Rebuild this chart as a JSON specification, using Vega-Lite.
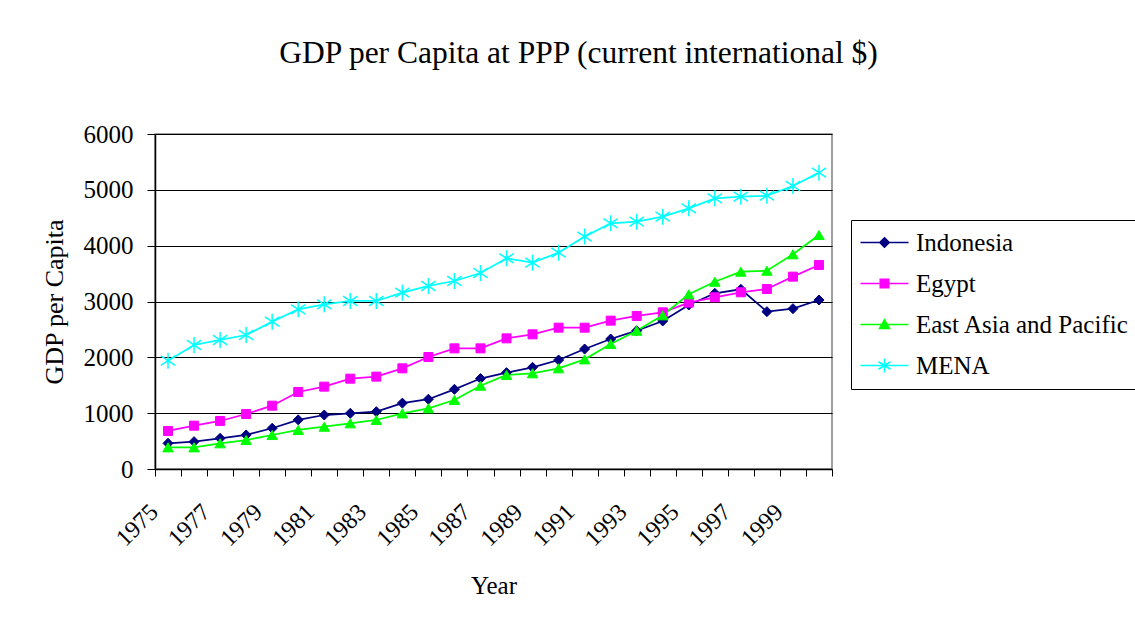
{
  "$schema": "https://vega.github.io/schema/vega-lite/v6.json",
  "width": 677,
  "height": 335,
  "autosize": "none",
  "padding": {"left": 155, "top": 134, "right": 303, "bottom": 155},
  "background": "white",
  "title": {
    "text": "GDP per Capita at PPP (current international $)",
    "font": "Liberation Serif", "fontSize": 31.5, "fontWeight": "normal", "color": "black",
    "anchor": "middle", "frame": "group", "dx": 85, "offset": 28, "baseline": "alphabetic"
  },
  "config": {
    "font": "Liberation Serif",
    "view": {"stroke": "#808080", "strokeWidth": 1.5},
    "axis": {
      "labelFont": "Liberation Serif", "titleFont": "Liberation Serif",
      "labelColor": "black", "titleColor": "black", "titleFontWeight": "normal",
      "domainColor": "black", "domainWidth": 1.5, "tickColor": "black", "tickWidth": 1
    }
  },
  "data": {"values": [
    {"year": 1975, "series": "Indonesia", "gdp": 460},
    {"year": 1976, "series": "Indonesia", "gdp": 490},
    {"year": 1977, "series": "Indonesia", "gdp": 550},
    {"year": 1978, "series": "Indonesia", "gdp": 610},
    {"year": 1979, "series": "Indonesia", "gdp": 730},
    {"year": 1980, "series": "Indonesia", "gdp": 880},
    {"year": 1981, "series": "Indonesia", "gdp": 967},
    {"year": 1982, "series": "Indonesia", "gdp": 997},
    {"year": 1983, "series": "Indonesia", "gdp": 1027},
    {"year": 1984, "series": "Indonesia", "gdp": 1180},
    {"year": 1985, "series": "Indonesia", "gdp": 1250},
    {"year": 1986, "series": "Indonesia", "gdp": 1427},
    {"year": 1987, "series": "Indonesia", "gdp": 1620},
    {"year": 1988, "series": "Indonesia", "gdp": 1726},
    {"year": 1989, "series": "Indonesia", "gdp": 1821},
    {"year": 1990, "series": "Indonesia", "gdp": 1952},
    {"year": 1991, "series": "Indonesia", "gdp": 2149},
    {"year": 1992, "series": "Indonesia", "gdp": 2328},
    {"year": 1993, "series": "Indonesia", "gdp": 2477},
    {"year": 1994, "series": "Indonesia", "gdp": 2651},
    {"year": 1995, "series": "Indonesia", "gdp": 2938},
    {"year": 1996, "series": "Indonesia", "gdp": 3147},
    {"year": 1997, "series": "Indonesia", "gdp": 3219},
    {"year": 1998, "series": "Indonesia", "gdp": 2818},
    {"year": 1999, "series": "Indonesia", "gdp": 2872},
    {"year": 2000, "series": "Indonesia", "gdp": 3027},
    {"year": 1975, "series": "Egypt", "gdp": 681},
    {"year": 1976, "series": "Egypt", "gdp": 776},
    {"year": 1977, "series": "Egypt", "gdp": 860},
    {"year": 1978, "series": "Egypt", "gdp": 985},
    {"year": 1979, "series": "Egypt", "gdp": 1134},
    {"year": 1980, "series": "Egypt", "gdp": 1379},
    {"year": 1981, "series": "Egypt", "gdp": 1475},
    {"year": 1982, "series": "Egypt", "gdp": 1618},
    {"year": 1983, "series": "Egypt", "gdp": 1654},
    {"year": 1984, "series": "Egypt", "gdp": 1803},
    {"year": 1985, "series": "Egypt", "gdp": 2006},
    {"year": 1986, "series": "Egypt", "gdp": 2161},
    {"year": 1987, "series": "Egypt", "gdp": 2161},
    {"year": 1988, "series": "Egypt", "gdp": 2340},
    {"year": 1989, "series": "Egypt", "gdp": 2412},
    {"year": 1990, "series": "Egypt", "gdp": 2531},
    {"year": 1991, "series": "Egypt", "gdp": 2531},
    {"year": 1992, "series": "Egypt", "gdp": 2657},
    {"year": 1993, "series": "Egypt", "gdp": 2741},
    {"year": 1994, "series": "Egypt", "gdp": 2806},
    {"year": 1995, "series": "Egypt", "gdp": 2980},
    {"year": 1996, "series": "Egypt", "gdp": 3075},
    {"year": 1997, "series": "Egypt", "gdp": 3165},
    {"year": 1998, "series": "Egypt", "gdp": 3224},
    {"year": 1999, "series": "Egypt", "gdp": 3445},
    {"year": 2000, "series": "Egypt", "gdp": 3654},
    {"year": 1975, "series": "East Asia and Pacific", "gdp": 388},
    {"year": 1976, "series": "East Asia and Pacific", "gdp": 388},
    {"year": 1977, "series": "East Asia and Pacific", "gdp": 460},
    {"year": 1978, "series": "East Asia and Pacific", "gdp": 519},
    {"year": 1979, "series": "East Asia and Pacific", "gdp": 609},
    {"year": 1980, "series": "East Asia and Pacific", "gdp": 699},
    {"year": 1981, "series": "East Asia and Pacific", "gdp": 758},
    {"year": 1982, "series": "East Asia and Pacific", "gdp": 818},
    {"year": 1983, "series": "East Asia and Pacific", "gdp": 878},
    {"year": 1984, "series": "East Asia and Pacific", "gdp": 997},
    {"year": 1985, "series": "East Asia and Pacific", "gdp": 1087},
    {"year": 1986, "series": "East Asia and Pacific", "gdp": 1236},
    {"year": 1987, "series": "East Asia and Pacific", "gdp": 1492},
    {"year": 1988, "series": "East Asia and Pacific", "gdp": 1684},
    {"year": 1989, "series": "East Asia and Pacific", "gdp": 1714},
    {"year": 1990, "series": "East Asia and Pacific", "gdp": 1803},
    {"year": 1991, "series": "East Asia and Pacific", "gdp": 1964},
    {"year": 1992, "series": "East Asia and Pacific", "gdp": 2239},
    {"year": 1993, "series": "East Asia and Pacific", "gdp": 2477},
    {"year": 1994, "series": "East Asia and Pacific", "gdp": 2753},
    {"year": 1995, "series": "East Asia and Pacific", "gdp": 3129},
    {"year": 1996, "series": "East Asia and Pacific", "gdp": 3355},
    {"year": 1997, "series": "East Asia and Pacific", "gdp": 3534},
    {"year": 1998, "series": "East Asia and Pacific", "gdp": 3552},
    {"year": 1999, "series": "East Asia and Pacific", "gdp": 3845},
    {"year": 2000, "series": "East Asia and Pacific", "gdp": 4191},
    {"year": 1975, "series": "MENA", "gdp": 1940},
    {"year": 1976, "series": "MENA", "gdp": 2221},
    {"year": 1977, "series": "MENA", "gdp": 2311},
    {"year": 1978, "series": "MENA", "gdp": 2400},
    {"year": 1979, "series": "MENA", "gdp": 2639},
    {"year": 1980, "series": "MENA", "gdp": 2860},
    {"year": 1981, "series": "MENA", "gdp": 2949},
    {"year": 1982, "series": "MENA", "gdp": 3009},
    {"year": 1983, "series": "MENA", "gdp": 3009},
    {"year": 1984, "series": "MENA", "gdp": 3158},
    {"year": 1985, "series": "MENA", "gdp": 3278},
    {"year": 1986, "series": "MENA", "gdp": 3367},
    {"year": 1987, "series": "MENA", "gdp": 3510},
    {"year": 1988, "series": "MENA", "gdp": 3773},
    {"year": 1989, "series": "MENA", "gdp": 3696},
    {"year": 1990, "series": "MENA", "gdp": 3875},
    {"year": 1991, "series": "MENA", "gdp": 4162},
    {"year": 1992, "series": "MENA", "gdp": 4400},
    {"year": 1993, "series": "MENA", "gdp": 4430},
    {"year": 1994, "series": "MENA", "gdp": 4519},
    {"year": 1995, "series": "MENA", "gdp": 4669},
    {"year": 1996, "series": "MENA", "gdp": 4848},
    {"year": 1997, "series": "MENA", "gdp": 4878},
    {"year": 1998, "series": "MENA", "gdp": 4896},
    {"year": 1999, "series": "MENA", "gdp": 5069},
    {"year": 2000, "series": "MENA", "gdp": 5308}
  ]},
  "encoding": {
    "x": {
      "field": "year", "type": "ordinal", "bandPosition": 0.5,
      "scale": {"type": "band", "paddingInner": 0, "paddingOuter": 0},
      "axis": {
        "title": "Year", "titleFontSize": 25, "titlePadding": 23,
        "labelFontSize": 24, "labelAngle": -45, "labelAlign": "right", "labelBaseline": "middle",
        "labelPadding": 32, "tickSize": 7, "tickBand": "extent", "labelOffset": -14,
        "labelOverlap": false, "labelExpr": "datum.value % 2 == 1 ? datum.label : ''",
        "grid": false
      }
    },
    "y": {
      "field": "gdp", "type": "quantitative",
      "scale": {"domain": [0, 6000], "nice": false},
      "axis": {
        "title": "GDP per Capita", "titleFontSize": 26, "titlePadding": 16,
        "values": [0, 1000, 2000, 3000, 4000, 5000, 6000], "format": "d",
        "labelFontSize": 25, "tickSize": 8, "labelPadding": 14,
        "grid": true, "gridColor": "black", "gridWidth": 1
      }
    },
    "color": {
      "field": "series", "type": "nominal",
      "scale": {
        "domain": ["Indonesia", "Egypt", "East Asia and Pacific", "MENA"],
        "range": ["#000080", "#FF00FF", "#00FF00", "#00FFFF"]
      },
      "legend": {
        "title": null, "orient": "none", "legendX": 696, "legendY": 86,
        "strokeColor": "black", "fillColor": "white", "padding": 10,
        "labelFont": "Liberation Serif", "labelFontSize": 25, "labelColor": "black", "labelLimit": 500,
        "symbolSize": 100, "symbolOffset": 11, "labelOffset": 19, "rowPadding": 15,
        "encode": {
          "symbols": {
            "update": {
              "shape": {"signal": "datum.value === 'Indonesia' ? 'M-4.8,0H4.8M0,-0.95L0.95,0L0,0.95L-0.95,0Z' : datum.value === 'Egypt' ? 'M-4.8,0H4.8M-0.85,-0.85H0.85V0.85H-0.85Z' : datum.value === 'MENA' ? 'M-4.8,0H4.8M0,-1.4V1.4M-1.2,-0.75L1.2,0.75M-1.2,0.75L1.2,-0.75' : 'M-4.8,0H4.8M0,-0.95L1,0.8L-1,0.8Z'"},
              "fill": {"scale": "color", "field": "value"},
              "stroke": {"scale": "color", "field": "value"},
              "strokeWidth": {"value": 1.5},
              "opacity": {"value": 1},
              "fillOpacity": {"value": 1},
              "size": {"value": 100}
            }
          }
        }
      }
    }
  },
  "layer": [
    {
      "mark": {"type": "line", "strokeWidth": 1.75}
    },
    {
      "transform": [{"filter": "datum.series === 'Indonesia'"}],
      "mark": {"type": "point", "shape": "diamond", "size": 100, "filled": true, "opacity": 1, "strokeWidth": 1},
      "encoding": {"stroke": {"field": "series", "type": "nominal", "scale": {"domain": ["Indonesia", "Egypt", "East Asia and Pacific", "MENA"], "range": ["#000080", "#FF00FF", "#00FF00", "#00FFFF"]}, "legend": null}}
    },
    {
      "transform": [{"filter": "datum.series === 'Egypt'"}],
      "mark": {"type": "point", "shape": "square", "size": 81, "filled": true, "opacity": 1, "strokeWidth": 1},
      "encoding": {"stroke": {"field": "series", "type": "nominal", "scale": {"domain": ["Indonesia", "Egypt", "East Asia and Pacific", "MENA"], "range": ["#000080", "#FF00FF", "#00FF00", "#00FFFF"]}, "legend": null}}
    },
    {
      "transform": [{"filter": "datum.series === 'East Asia and Pacific'"}],
      "mark": {"type": "point", "shape": "triangle-up", "size": 110, "filled": true, "opacity": 1, "strokeWidth": 1},
      "encoding": {"stroke": {"field": "series", "type": "nominal", "scale": {"domain": ["Indonesia", "Egypt", "East Asia and Pacific", "MENA"], "range": ["#000080", "#FF00FF", "#00FF00", "#00FFFF"]}, "legend": null}}
    },
    {
      "transform": [{"filter": "datum.series === 'MENA'"}],
      "mark": {"type": "point", "shape": "M0,-1V1M-0.9,-0.6L0.9,0.6M-0.9,0.6L0.9,-0.6", "size": 256, "filled": true, "opacity": 1, "strokeWidth": 1.5},
      "encoding": {"stroke": {"field": "series", "type": "nominal", "scale": {"domain": ["Indonesia", "Egypt", "East Asia and Pacific", "MENA"], "range": ["#000080", "#FF00FF", "#00FF00", "#00FFFF"]}, "legend": null}}
    }
  ]
}
